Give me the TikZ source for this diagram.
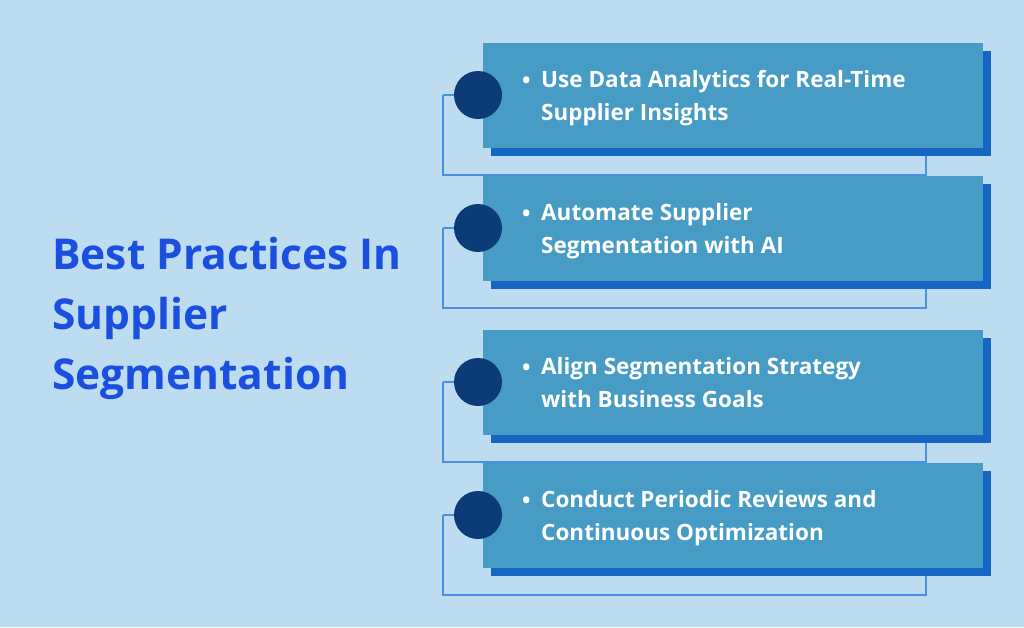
\documentclass[tikz,border=0pt]{standalone}
\usepackage{fontspec}
\setmainfont{Open Sans}
\usetikzlibrary{positioning}
\definecolor{bgblue}{HTML}{BEDCEF}
\definecolor{boxblue}{HTML}{479CC5}
\definecolor{shadeblue}{HTML}{1565C3}
\definecolor{dotblue}{HTML}{0C3C78}
\definecolor{lineblue}{HTML}{4A90E2}
\definecolor{titleblue}{HTML}{1B4FDF}
\tikzset{
  stepbox/.style={fill=boxblue, minimum width=500pt, minimum height=105pt, anchor=north west, inner sep=0pt},
  shadebox/.style={fill=shadeblue, minimum width=500pt, minimum height=105pt, anchor=north west, inner sep=0pt},
  dot/.style={circle, fill=dotblue, minimum size=48pt, inner sep=0pt},
  itemtext/.style={text=white, font=\bfseries\fontsize{22.5}{33}\selectfont, align=left, anchor=west, inner sep=0pt},
  link/.style={draw=lineblue, line width=1.2pt}
}
\begin{document}
\begin{tikzpicture}[x=1pt,y=-1pt]
  \fill[bgblue] (0,0) rectangle (1024,627);
  \useasboundingbox (0,0) rectangle (1024,627);
  % title
  \node[text=titleblue, font=\bfseries\fontsize{42.5}{60}\selectfont, align=left, anchor=west, inner sep=0pt] (title) at (52,318) {Best Practices In\\Supplier\\Segmentation};
  % steps
  \foreach \i/\y/\txt in {1/43/{Use Data Analytics for Real-Time\\Supplier Insights},
                          2/176/{Automate Supplier\\Segmentation with AI},
                          3/330/{Align Segmentation Strategy\\with Business Goals},
                          4/463/{Conduct Periodic Reviews and\\Continuous Optimization}} {
    \coordinate (lt\i) at (443,\y+52);
    \coordinate (lb\i) at (443,\y+132);
    \coordinate (rb\i) at (926,\y+132);
    \coordinate (rt\i) at (926,\y+112);
    \draw[link] (lt\i) -- (lb\i) -- (rb\i) -- (rt\i);
    \node[shadebox] (shade\i) at (491,\y+8) {};
    \node[stepbox] (box\i) at (483,\y) {};
    \node[dot] (dot\i) at (478,\y+52) {};
    \draw[link] (lt\i) -- (dot\i.west);
    \node[itemtext] (bul\i) at (522,\y+40) {\textbullet};
    \node[itemtext, anchor=north west] (txt\i) at (541,\y+27) {\txt};
  }
\end{tikzpicture}
\end{document}
